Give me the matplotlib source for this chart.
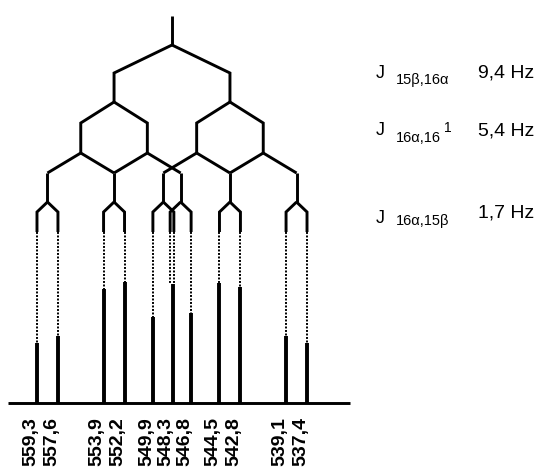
import matplotlib.pyplot as plt
from matplotlib.transforms import offset_copy

plt.rcParams['font.family'] = ['Liberation Sans', 'DejaVu Sans']

# multiplet centre and coupling constants (Hz)
center = 548.35
couplings = [9.4, 5.4, 1.7]
coupling_names = ["15β,16α", "16α,16", "16α,15β"]
coupling_labels = ["9,4 Hz", "5,4 Hz", "1,7 Hz"]

# observed lines (Hz) and relative intensities
peak_hz = [559.3, 557.6, 553.9, 552.2, 549.9, 548.3, 546.8, 544.5, 542.8, 539.1, 537.4]
peak_int = [0.50, 0.55, 0.94, 1.00, 0.71, 0.98, 0.74, 0.99, 0.96, 0.55, 0.50]

fig = plt.figure(figsize=(5.44, 4.68), dpi=100)
ax = fig.add_axes([0, 0, 1, 1])
ax.set_xlim(562.3, 518.18)
ax.set_ylim(468, 0)
ax.axis('off')

lw = 2.1
kw = dict(color='black', lw=lw, solid_capstyle='butt', solid_joinstyle='miter')
base = 403
hmax = 121

# first doublet
ax.plot([center, center], [16, 45], **kw)
level1 = []
for s in (1, -1):
    x1 = center + s * couplings[0] / 2
    ax.plot([center, x1, x1], [45, 73, 102], **kw)
    level1.append(x1)

# two equal couplings -> triplet
level2 = []
for x1 in level1:
    for s in (1, -1):
        a = x1 + s * couplings[1] / 2
        ax.plot([x1, a, a], [102, 123, 153], **kw)
        for s2 in (1, -1):
            ax.plot([a, a + s2 * couplings[1] / 2], [153, 173], **kw)
    for t in (x1 + couplings[1], x1, x1 - couplings[1]):
        ax.plot([t, t], [173, 202], **kw)
        level2.append(t)

# small doublet, then dotted drop to the lines
for t in level2:
    for s in (1, -1):
        d = t + s * couplings[2] / 2
        ax.plot([t, d, d], [202, 212, 232], **kw)
        i = min(range(len(peak_hz)), key=lambda k: abs(peak_hz[k] - d))
        ax.plot([d, d], [232, base - peak_int[i] * hmax], color='black',
                lw=1.4, linestyle=(0, (1, 0.8)))

# spectrum lines
for hz, h in zip(peak_hz, peak_int):
    ax.plot([hz, hz], [base, base - h * hmax], color='black', lw=2.8,
            solid_capstyle='butt')
ax.plot([peak_hz[0] + 2.35, peak_hz[-1] - 3.5], [base, base], **kw)

# line labels
lab_tr = offset_copy(ax.transData, fig=fig, x=-2, y=-14, units='dots')
for hz in peak_hz:
    ax.text(hz, base, f"{hz:.1f}".replace('.', ','), transform=lab_tr,
            rotation=90, rotation_mode='anchor', ha='right', va='baseline',
            fontsize=14, fontweight='bold')

# coupling constants
tx = fig.add_axes([0, 0, 1, 1], facecolor='none')
tx.set_xlim(0, 544)
tx.set_ylim(468, 0)
tx.axis('off')
rows = [(78, 84, 77), (135, 142, 136), (223, 225, 217)]
for (yj, ys, yv), name, lab in zip(rows, coupling_names, coupling_labels):
    tx.text(376, yj, "J", fontsize=13, va='baseline')
    sub = tx.text(396, ys, name, fontsize=10.5, va='baseline')
    tx.text(478, yv, lab, fontsize=14, va='baseline')
    if name == "16α,16":
        tx.annotate("1", xy=(1, 1), xycoords=sub, xytext=(2, 7),
                    textcoords='offset points', fontsize=10, va='top')

fig.savefig('out.png', dpi=100)
